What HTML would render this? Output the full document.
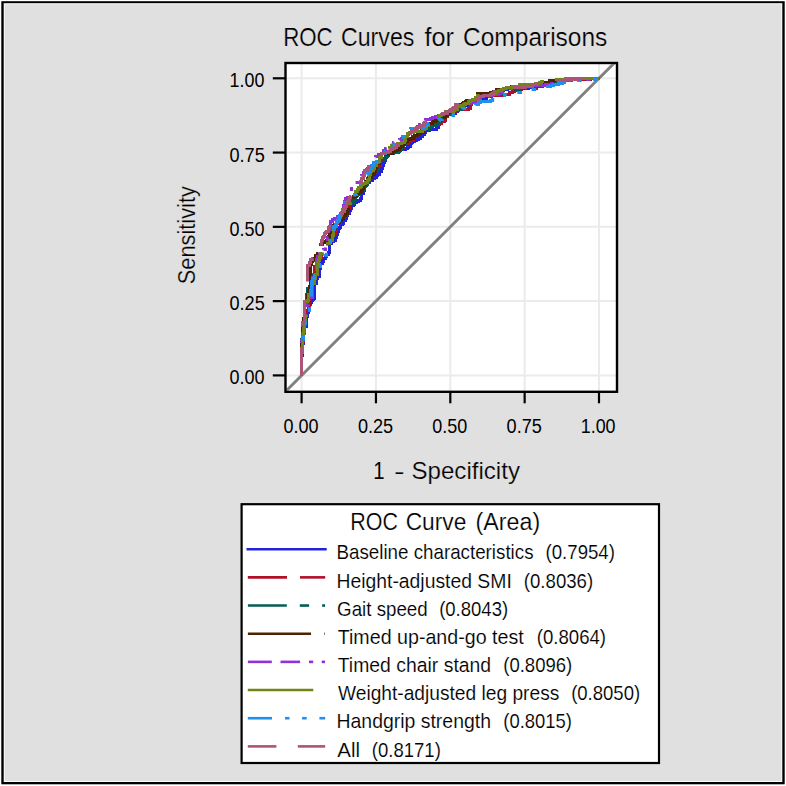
<!DOCTYPE html>
<html><head><meta charset="utf-8"><style>html,body{margin:0;padding:0;background:#fff;}svg{display:block;}text{font-family:"Liberation Sans",sans-serif;}</style></head>
<body>
<svg width="786" height="786" viewBox="0 0 786 786" font-family="Liberation Sans, sans-serif">
<rect x="0" y="0" width="786" height="786" fill="#ffffff"/>
<rect x="1.3" y="1.2" width="783.4" height="783.1" fill="#000"/>
<rect x="3.7" y="3.2" width="778.6" height="778.8" fill="#fafafa"/>
<rect x="4.7" y="4.3" width="776.6" height="776.7" fill="#e0e0e0"/>
<text transform="translate(283.16,45.80) scale(0.8913,1)" font-size="25" fill="#000" stroke="#e0e0e0" stroke-width="0.2" >ROC</text>
<text transform="translate(341.01,45.80) scale(0.9271,1)" font-size="25" fill="#000" stroke="#e0e0e0" stroke-width="0.2" >Curves</text>
<text transform="translate(424.40,45.80) scale(1.0120,1)" font-size="25" fill="#000" stroke="#e0e0e0" stroke-width="0.2" >for</text>
<text transform="translate(463.05,45.80) scale(0.9799,1)" font-size="25" fill="#000" stroke="#e0e0e0" stroke-width="0.2" >Comparisons</text>
<rect x="285.5" y="63.0" width="331.5" height="328.8" fill="#fff"/>
<line x1="301.60" y1="63.0" x2="301.60" y2="391.8" stroke="#ebebeb" stroke-width="2"/>
<line x1="285.5" y1="375.40" x2="617.0" y2="375.40" stroke="#ebebeb" stroke-width="2"/>
<line x1="375.95" y1="63.0" x2="375.95" y2="391.8" stroke="#ebebeb" stroke-width="2"/>
<line x1="285.5" y1="301.12" x2="617.0" y2="301.12" stroke="#ebebeb" stroke-width="2"/>
<line x1="450.30" y1="63.0" x2="450.30" y2="391.8" stroke="#ebebeb" stroke-width="2"/>
<line x1="285.5" y1="226.85" x2="617.0" y2="226.85" stroke="#ebebeb" stroke-width="2"/>
<line x1="524.65" y1="63.0" x2="524.65" y2="391.8" stroke="#ebebeb" stroke-width="2"/>
<line x1="285.5" y1="152.57" x2="617.0" y2="152.57" stroke="#ebebeb" stroke-width="2"/>
<line x1="599.00" y1="63.0" x2="599.00" y2="391.8" stroke="#ebebeb" stroke-width="2"/>
<line x1="285.5" y1="78.30" x2="617.0" y2="78.30" stroke="#ebebeb" stroke-width="2"/>
<clipPath id="pc"><rect x="286.7" y="64.2" width="329.1" height="326.40000000000003"/></clipPath>
<g clip-path="url(#pc)">
<line x1="281.70" y1="395.28" x2="620.80" y2="56.52" stroke="#808080" stroke-width="2.9"/>
<path d="M301.5,375.5 L301.5,374.5 L301.5,372.5 L301.5,370.5 L301.5,369.5 L301.5,367.5 L301.5,366.5 L301.5,365.5 L301.5,364.5 L301.5,362.5 L301.5,361.5 L301.5,359.5 L301.5,358.5 L301.5,357.5 L301.5,355.5 L302.5,355.5 L302.5,353.5 L302.5,352.5 L302.5,351.5 L302.5,349.5 L302.5,347.5 L302.5,346.5 L302.5,345.5 L302.5,343.5 L303.5,343.5 L303.5,341.5 L303.5,340.5 L303.5,339.5 L303.5,337.5 L303.5,335.5 L303.5,334.5 L303.5,332.5 L304.5,332.5 L304.5,330.5 L304.5,329.5 L304.5,327.5 L304.5,326.5 L306.5,326.5 L306.5,324.5 L306.5,322.5 L306.5,321.5 L306.5,320.5 L306.5,318.5 L306.5,317.5 L306.5,316.5 L307.5,316.5 L307.5,313.5 L307.5,312.5 L308.5,312.5 L308.5,310.5 L308.5,309.5 L308.5,308.5 L308.5,306.5 L308.5,305.5 L308.5,304.5 L310.5,304.5 L310.5,302.5 L311.5,302.5 L311.5,301.5 L311.5,300.5 L312.5,300.5 L312.5,299.5 L313.5,299.5 L313.5,298.5 L314.5,298.5 L314.5,296.5 L314.5,294.5 L314.5,293.5 L314.5,292.5 L314.5,290.5 L314.5,289.5 L314.5,288.5 L314.5,287.5 L314.5,285.5 L314.5,284.5 L314.5,283.5 L316.5,283.5 L316.5,281.5 L316.5,280.5 L316.5,278.5 L317.5,278.5 L317.5,277.5 L317.5,276.5 L319.5,276.5 L319.5,274.5 L319.5,273.5 L319.5,271.5 L319.5,270.5 L319.5,268.5 L320.5,268.5 L320.5,266.5 L320.5,265.5 L320.5,263.5 L322.5,263.5 L322.5,262.5 L322.5,261.5 L323.5,261.5 L323.5,259.5 L323.5,258.5 L325.5,258.5 L325.5,256.5 L326.5,256.5 L326.5,255.5 L326.5,254.5 L328.5,254.5 L328.5,252.5 L329.5,252.5 L329.5,251.5 L329.5,250.5 L329.5,247.5 L329.5,246.5 L329.5,244.5 L329.5,243.5 L331.5,243.5 L331.5,242.5 L331.5,241.5 L333.5,241.5 L333.5,240.5 L335.5,240.5 L335.5,238.5 L335.5,237.5 L336.5,237.5 L336.5,235.5 L336.5,234.5 L337.5,234.5 L337.5,232.5 L337.5,231.5 L338.5,231.5 L338.5,229.5 L338.5,228.5 L339.5,228.5 L339.5,227.5 L340.5,227.5 L340.5,225.5 L340.5,224.5 L342.5,224.5 L342.5,223.5 L343.5,223.5 L343.5,221.5 L343.5,220.5 L345.5,220.5 L345.5,218.5 L346.5,218.5 L346.5,217.5 L346.5,215.5 L347.5,215.5 L347.5,213.5 L349.5,213.5 L349.5,212.5 L349.5,211.5 L349.5,210.5 L350.5,210.5 L350.5,208.5 L351.5,208.5 L351.5,207.5 L351.5,205.5 L353.5,205.5 L353.5,204.5 L354.5,204.5 L354.5,202.5 L355.5,202.5 L356.5,202.5 L356.5,201.5 L358.5,201.5 L358.5,200.5 L360.5,200.5 L360.5,198.5 L361.5,198.5 L361.5,196.5 L361.5,195.5 L361.5,194.5 L361.5,193.5 L363.5,193.5 L363.5,191.5 L363.5,190.5 L364.5,190.5 L364.5,188.5 L364.5,186.5 L364.5,185.5 L366.5,185.5 L366.5,184.5 L367.5,184.5 L367.5,183.5 L367.5,182.5 L369.5,182.5 L369.5,180.5 L372.5,180.5 L372.5,178.5 L374.5,178.5 L374.5,177.5 L376.5,177.5 L376.5,175.5 L377.5,175.5 L377.5,174.5 L379.5,174.5 L379.5,172.5 L379.5,171.5 L381.5,171.5 L381.5,169.5 L381.5,168.5 L382.5,168.5 L382.5,166.5 L382.5,165.5 L383.5,165.5 L383.5,163.5 L383.5,162.5 L384.5,162.5 L384.5,160.5 L385.5,160.5 L385.5,159.5 L385.5,157.5 L386.5,157.5 L386.5,156.5 L387.5,156.5 L387.5,155.5 L387.5,153.5 L390.5,153.5 L391.5,153.5 L391.5,152.5 L392.5,152.5 L395.5,152.5 L395.5,151.5 L397.5,151.5 L397.5,150.5 L399.5,150.5 L400.5,150.5 L400.5,149.5 L402.5,149.5 L403.5,149.5 L405.5,149.5 L405.5,148.5 L407.5,148.5 L407.5,147.5 L408.5,147.5 L408.5,146.5 L410.5,146.5 L410.5,144.5 L410.5,143.5 L411.5,143.5 L411.5,142.5 L412.5,142.5 L412.5,141.5 L414.5,141.5 L414.5,140.5 L416.5,140.5 L416.5,139.5 L418.5,139.5 L418.5,138.5 L419.5,138.5 L420.5,138.5 L420.5,137.5 L420.5,136.5 L422.5,136.5 L422.5,134.5 L424.5,134.5 L424.5,132.5 L425.5,132.5 L425.5,131.5 L425.5,130.5 L427.5,130.5 L429.5,130.5 L429.5,129.5 L430.5,129.5 L431.5,129.5 L433.5,129.5 L435.5,129.5 L436.5,129.5 L436.5,127.5 L438.5,127.5 L438.5,126.5 L438.5,125.5 L438.5,124.5 L439.5,124.5 L439.5,122.5 L439.5,121.5 L439.5,120.5 L441.5,120.5 L441.5,118.5 L443.5,118.5 L443.5,116.5 L445.5,116.5 L445.5,115.5 L447.5,115.5 L447.5,114.5 L449.5,114.5 L451.5,114.5 L451.5,113.5 L453.5,113.5 L454.5,113.5 L455.5,113.5 L455.5,111.5 L456.5,111.5 L457.5,111.5 L457.5,109.5 L457.5,108.5 L460.5,108.5 L460.5,107.5 L462.5,107.5 L462.5,106.5 L463.5,106.5 L464.5,106.5 L464.5,105.5 L467.5,105.5 L469.5,105.5 L469.5,104.5 L470.5,104.5 L470.5,103.5 L471.5,103.5 L471.5,101.5 L474.5,101.5 L474.5,100.5 L476.5,100.5 L476.5,99.5 L478.5,99.5 L480.5,99.5 L482.5,99.5 L484.5,99.5 L484.5,98.5 L486.5,98.5 L486.5,96.5 L488.5,96.5 L489.5,96.5 L489.5,94.5 L491.5,94.5 L492.5,94.5 L493.5,94.5 L493.5,93.5 L495.5,93.5 L497.5,93.5 L499.5,93.5 L499.5,92.5 L500.5,92.5 L501.5,92.5 L501.5,90.5 L503.5,90.5 L503.5,89.5 L505.5,89.5 L507.5,89.5 L507.5,88.5 L510.5,88.5 L512.5,88.5 L514.5,88.5 L515.5,88.5 L516.5,88.5 L518.5,88.5 L520.5,88.5 L522.5,88.5 L524.5,88.5 L527.5,88.5 L528.5,88.5 L528.5,87.5 L529.5,87.5 L531.5,87.5 L531.5,85.5 L534.5,85.5 L535.5,85.5 L537.5,85.5 L538.5,85.5 L538.5,84.5 L539.5,84.5 L542.5,84.5 L542.5,83.5 L544.5,83.5 L546.5,83.5 L548.5,83.5 L548.5,82.5 L550.5,82.5 L552.5,82.5 L554.5,82.5 L556.5,82.5 L558.5,82.5 L560.5,82.5 L560.5,81.5 L561.5,81.5 L563.5,81.5 L563.5,80.5 L565.5,80.5 L566.5,80.5 L568.5,80.5 L568.5,79.5 L569.5,79.5 L572.5,79.5 L574.5,79.5 L575.5,79.5 L577.5,79.5 L578.5,79.5 L579.5,79.5 L581.5,79.5 L582.5,79.5 L585.5,79.5 L586.5,79.5 L587.5,79.5 L590.5,79.5 L590.5,78.5 L592.5,78.5 L593.5,78.5 L595.5,78.5 L598.5,78.5 L599.5,78.5" fill="none" stroke="#2222dd" stroke-width="3"/>
<path d="M301.5,375.5 L301.5,374.5 L301.5,372.5 L301.5,371.5 L301.5,369.5 L301.5,368.5 L301.5,365.5 L301.5,364.5 L301.5,363.5 L301.5,362.5 L301.5,360.5 L301.5,358.5 L301.5,357.5 L301.5,356.5 L301.5,354.5 L301.5,352.5 L301.5,351.5 L301.5,350.5 L302.5,350.5 L302.5,349.5 L302.5,347.5 L302.5,346.5 L302.5,345.5 L302.5,344.5 L302.5,343.5 L302.5,342.5 L302.5,341.5 L303.5,341.5 L303.5,340.5 L303.5,338.5 L303.5,336.5 L303.5,335.5 L303.5,333.5 L304.5,333.5 L304.5,332.5 L304.5,330.5 L304.5,328.5 L304.5,326.5 L304.5,325.5 L304.5,323.5 L304.5,321.5 L304.5,320.5 L304.5,318.5 L304.5,316.5 L304.5,314.5 L304.5,313.5 L306.5,313.5 L306.5,312.5 L306.5,310.5 L308.5,310.5 L308.5,308.5 L308.5,307.5 L308.5,306.5 L309.5,306.5 L309.5,304.5 L309.5,302.5 L309.5,301.5 L309.5,300.5 L309.5,299.5 L310.5,299.5 L310.5,298.5 L310.5,296.5 L310.5,294.5 L310.5,293.5 L311.5,293.5 L311.5,292.5 L311.5,290.5 L313.5,290.5 L313.5,289.5 L313.5,288.5 L313.5,287.5 L314.5,287.5 L314.5,285.5 L314.5,284.5 L314.5,282.5 L314.5,280.5 L314.5,279.5 L314.5,277.5 L314.5,276.5 L314.5,275.5 L314.5,274.5 L314.5,272.5 L314.5,270.5 L314.5,269.5 L314.5,267.5 L314.5,266.5 L316.5,266.5 L316.5,265.5 L316.5,263.5 L317.5,263.5 L317.5,261.5 L317.5,260.5 L317.5,258.5 L320.5,258.5 L320.5,257.5 L321.5,257.5 L321.5,256.5 L321.5,254.5 L323.5,254.5 L323.5,253.5 L323.5,252.5 L323.5,251.5 L325.5,251.5 L325.5,249.5 L325.5,248.5 L326.5,248.5 L326.5,247.5 L326.5,245.5 L327.5,245.5 L327.5,244.5 L327.5,243.5 L327.5,242.5 L328.5,242.5 L328.5,240.5 L328.5,239.5 L330.5,239.5 L330.5,238.5 L330.5,236.5 L332.5,236.5 L332.5,235.5 L333.5,235.5 L333.5,233.5 L335.5,233.5 L335.5,232.5 L335.5,230.5 L336.5,230.5 L336.5,229.5 L336.5,226.5 L336.5,225.5 L336.5,224.5 L336.5,223.5 L337.5,223.5 L337.5,221.5 L337.5,220.5 L337.5,219.5 L338.5,219.5 L338.5,217.5 L338.5,216.5 L340.5,216.5 L340.5,215.5 L342.5,215.5 L342.5,214.5 L345.5,214.5 L346.5,214.5 L346.5,212.5 L348.5,212.5 L348.5,210.5 L348.5,209.5 L348.5,208.5 L348.5,207.5 L349.5,207.5 L349.5,205.5 L349.5,203.5 L349.5,202.5 L351.5,202.5 L351.5,201.5 L351.5,199.5 L353.5,199.5 L353.5,198.5 L354.5,198.5 L354.5,197.5 L354.5,195.5 L355.5,195.5 L355.5,193.5 L355.5,192.5 L358.5,192.5 L358.5,191.5 L358.5,190.5 L360.5,190.5 L360.5,189.5 L362.5,189.5 L362.5,187.5 L363.5,187.5 L363.5,186.5 L364.5,186.5 L364.5,184.5 L364.5,183.5 L366.5,183.5 L366.5,182.5 L366.5,181.5 L367.5,181.5 L367.5,180.5 L367.5,178.5 L368.5,178.5 L368.5,177.5 L369.5,177.5 L369.5,176.5 L371.5,176.5 L371.5,174.5 L372.5,174.5 L372.5,172.5 L373.5,172.5 L373.5,171.5 L375.5,171.5 L376.5,171.5 L376.5,170.5 L376.5,168.5 L378.5,168.5 L378.5,166.5 L378.5,165.5 L380.5,165.5 L380.5,164.5 L380.5,162.5 L380.5,161.5 L380.5,159.5 L382.5,159.5 L382.5,157.5 L384.5,157.5 L384.5,156.5 L384.5,155.5 L386.5,155.5 L386.5,154.5 L388.5,154.5 L388.5,153.5 L389.5,153.5 L392.5,153.5 L392.5,152.5 L393.5,152.5 L395.5,152.5 L396.5,152.5 L398.5,152.5 L398.5,150.5 L400.5,150.5 L400.5,149.5 L401.5,149.5 L401.5,148.5 L401.5,147.5 L403.5,147.5 L403.5,146.5 L403.5,144.5 L405.5,144.5 L405.5,143.5 L406.5,143.5 L407.5,143.5 L407.5,141.5 L409.5,141.5 L410.5,141.5 L410.5,140.5 L411.5,140.5 L411.5,139.5 L413.5,139.5 L413.5,137.5 L414.5,137.5 L414.5,135.5 L414.5,134.5 L416.5,134.5 L416.5,133.5 L417.5,133.5 L417.5,132.5 L418.5,132.5 L419.5,132.5 L419.5,131.5 L421.5,131.5 L421.5,130.5 L422.5,130.5 L422.5,129.5 L424.5,129.5 L424.5,128.5 L426.5,128.5 L426.5,126.5 L428.5,126.5 L428.5,125.5 L429.5,125.5 L432.5,125.5 L432.5,124.5 L433.5,124.5 L436.5,124.5 L437.5,124.5 L437.5,123.5 L439.5,123.5 L441.5,123.5 L441.5,121.5 L442.5,121.5 L444.5,121.5 L444.5,120.5 L445.5,120.5 L445.5,118.5 L445.5,117.5 L447.5,117.5 L447.5,115.5 L447.5,114.5 L447.5,113.5 L449.5,113.5 L449.5,112.5 L451.5,112.5 L451.5,111.5 L453.5,111.5 L455.5,111.5 L455.5,110.5 L456.5,110.5 L458.5,110.5 L458.5,109.5 L459.5,109.5 L460.5,109.5 L461.5,109.5 L464.5,109.5 L465.5,109.5 L467.5,109.5 L468.5,109.5 L468.5,108.5 L470.5,108.5 L470.5,106.5 L470.5,104.5 L471.5,104.5 L471.5,103.5 L471.5,101.5 L474.5,101.5 L475.5,101.5 L476.5,101.5 L476.5,100.5 L478.5,100.5 L479.5,100.5 L481.5,100.5 L481.5,99.5 L482.5,99.5 L485.5,99.5 L485.5,97.5 L487.5,97.5 L487.5,96.5 L490.5,96.5 L491.5,96.5 L491.5,95.5 L493.5,95.5 L495.5,95.5 L496.5,95.5 L497.5,95.5 L500.5,95.5 L502.5,95.5 L504.5,95.5 L504.5,94.5 L506.5,94.5 L508.5,94.5 L509.5,94.5 L509.5,92.5 L512.5,92.5 L512.5,91.5 L514.5,91.5 L514.5,90.5 L517.5,90.5 L517.5,89.5 L518.5,89.5 L520.5,89.5 L521.5,89.5 L521.5,88.5 L522.5,88.5 L524.5,88.5 L526.5,88.5 L529.5,88.5 L531.5,88.5 L532.5,88.5 L533.5,88.5 L534.5,88.5 L536.5,88.5 L536.5,86.5 L538.5,86.5 L540.5,86.5 L540.5,85.5 L543.5,85.5 L543.5,84.5 L544.5,84.5 L547.5,84.5 L547.5,82.5 L548.5,82.5 L550.5,82.5 L551.5,82.5 L554.5,82.5 L555.5,82.5 L556.5,82.5 L558.5,82.5 L560.5,82.5 L560.5,81.5 L561.5,81.5 L563.5,81.5 L563.5,80.5 L565.5,80.5 L566.5,80.5 L568.5,80.5 L568.5,79.5 L570.5,79.5 L571.5,79.5 L573.5,79.5 L574.5,79.5 L576.5,79.5 L578.5,79.5 L580.5,79.5 L581.5,79.5 L583.5,79.5 L585.5,79.5 L587.5,79.5 L589.5,79.5 L589.5,78.5 L591.5,78.5 L592.5,78.5 L594.5,78.5 L595.5,78.5 L596.5,78.5 L598.5,78.5 L599.5,78.5" fill="none" stroke="#b01028" stroke-width="3" stroke-dasharray="39 13"/>
<path d="M301.5,375.5 L301.5,374.5 L301.5,372.5 L301.5,371.5 L301.5,370.5 L301.5,369.5 L301.5,367.5 L301.5,365.5 L301.5,364.5 L301.5,363.5 L301.5,361.5 L301.5,359.5 L301.5,358.5 L301.5,356.5 L301.5,354.5 L301.5,352.5 L301.5,351.5 L301.5,349.5 L301.5,348.5 L301.5,346.5 L301.5,345.5 L301.5,344.5 L301.5,342.5 L301.5,341.5 L301.5,339.5 L302.5,339.5 L302.5,337.5 L302.5,336.5 L302.5,334.5 L302.5,333.5 L302.5,332.5 L302.5,331.5 L302.5,329.5 L304.5,329.5 L304.5,328.5 L304.5,326.5 L304.5,324.5 L304.5,323.5 L305.5,323.5 L305.5,321.5 L305.5,319.5 L305.5,317.5 L305.5,316.5 L305.5,314.5 L305.5,313.5 L305.5,311.5 L305.5,310.5 L306.5,310.5 L306.5,309.5 L306.5,307.5 L306.5,306.5 L306.5,305.5 L306.5,303.5 L306.5,302.5 L306.5,299.5 L306.5,298.5 L306.5,296.5 L306.5,295.5 L306.5,294.5 L307.5,294.5 L307.5,292.5 L307.5,291.5 L307.5,290.5 L307.5,288.5 L310.5,288.5 L310.5,287.5 L310.5,285.5 L311.5,285.5 L311.5,284.5 L311.5,282.5 L312.5,282.5 L312.5,281.5 L312.5,279.5 L312.5,278.5 L312.5,277.5 L312.5,276.5 L312.5,274.5 L312.5,273.5 L312.5,271.5 L312.5,269.5 L312.5,268.5 L312.5,267.5 L312.5,266.5 L312.5,264.5 L312.5,263.5 L312.5,262.5 L312.5,260.5 L313.5,260.5 L313.5,259.5 L313.5,258.5 L315.5,258.5 L316.5,258.5 L316.5,256.5 L317.5,256.5 L317.5,254.5 L319.5,254.5 L319.5,253.5 L319.5,251.5 L319.5,250.5 L320.5,250.5 L320.5,249.5 L320.5,248.5 L320.5,247.5 L320.5,245.5 L320.5,244.5 L322.5,244.5 L322.5,242.5 L322.5,241.5 L324.5,241.5 L326.5,241.5 L326.5,240.5 L327.5,240.5 L327.5,238.5 L329.5,238.5 L329.5,236.5 L331.5,236.5 L331.5,234.5 L331.5,233.5 L331.5,232.5 L331.5,230.5 L333.5,230.5 L333.5,228.5 L335.5,228.5 L335.5,227.5 L335.5,226.5 L336.5,226.5 L336.5,225.5 L336.5,223.5 L338.5,223.5 L338.5,221.5 L339.5,221.5 L339.5,220.5 L340.5,220.5 L340.5,219.5 L341.5,219.5 L341.5,217.5 L343.5,217.5 L344.5,217.5 L344.5,215.5 L346.5,215.5 L346.5,214.5 L347.5,214.5 L347.5,213.5 L347.5,211.5 L347.5,210.5 L349.5,210.5 L349.5,208.5 L350.5,208.5 L350.5,207.5 L350.5,206.5 L352.5,206.5 L352.5,204.5 L352.5,203.5 L353.5,203.5 L353.5,202.5 L353.5,200.5 L353.5,199.5 L355.5,199.5 L355.5,198.5 L355.5,197.5 L355.5,196.5 L356.5,196.5 L356.5,195.5 L357.5,195.5 L357.5,194.5 L359.5,194.5 L359.5,192.5 L361.5,192.5 L361.5,191.5 L361.5,190.5 L363.5,190.5 L363.5,189.5 L364.5,189.5 L364.5,188.5 L364.5,186.5 L365.5,186.5 L365.5,185.5 L365.5,184.5 L367.5,184.5 L367.5,182.5 L368.5,182.5 L368.5,181.5 L370.5,181.5 L370.5,179.5 L370.5,178.5 L372.5,178.5 L372.5,176.5 L372.5,175.5 L374.5,175.5 L374.5,174.5 L374.5,173.5 L374.5,172.5 L375.5,172.5 L375.5,171.5 L375.5,170.5 L375.5,169.5 L377.5,169.5 L377.5,167.5 L377.5,166.5 L377.5,165.5 L379.5,165.5 L379.5,163.5 L380.5,163.5 L380.5,162.5 L382.5,162.5 L382.5,161.5 L382.5,159.5 L384.5,159.5 L384.5,158.5 L385.5,158.5 L385.5,157.5 L385.5,156.5 L386.5,156.5 L386.5,155.5 L388.5,155.5 L388.5,153.5 L390.5,153.5 L391.5,153.5 L393.5,153.5 L393.5,152.5 L394.5,152.5 L396.5,152.5 L396.5,151.5 L398.5,151.5 L399.5,151.5 L399.5,149.5 L401.5,149.5 L401.5,147.5 L401.5,146.5 L403.5,146.5 L403.5,144.5 L405.5,144.5 L405.5,143.5 L406.5,143.5 L406.5,141.5 L406.5,140.5 L408.5,140.5 L408.5,139.5 L410.5,139.5 L410.5,137.5 L412.5,137.5 L412.5,136.5 L413.5,136.5 L415.5,136.5 L415.5,135.5 L416.5,135.5 L417.5,135.5 L419.5,135.5 L420.5,135.5 L420.5,134.5 L422.5,134.5 L423.5,134.5 L425.5,134.5 L425.5,133.5 L427.5,133.5 L427.5,131.5 L427.5,129.5 L429.5,129.5 L429.5,128.5 L429.5,127.5 L430.5,127.5 L430.5,126.5 L432.5,126.5 L432.5,125.5 L433.5,125.5 L435.5,125.5 L435.5,124.5 L436.5,124.5 L438.5,124.5 L438.5,123.5 L438.5,121.5 L440.5,121.5 L440.5,120.5 L442.5,120.5 L442.5,119.5 L442.5,118.5 L445.5,118.5 L445.5,116.5 L446.5,116.5 L447.5,116.5 L447.5,114.5 L449.5,114.5 L449.5,113.5 L451.5,113.5 L453.5,113.5 L453.5,111.5 L454.5,111.5 L456.5,111.5 L456.5,110.5 L458.5,110.5 L459.5,110.5 L459.5,109.5 L462.5,109.5 L462.5,107.5 L464.5,107.5 L464.5,105.5 L466.5,105.5 L466.5,104.5 L467.5,104.5 L468.5,104.5 L468.5,103.5 L470.5,103.5 L471.5,103.5 L471.5,102.5 L473.5,102.5 L474.5,102.5 L474.5,100.5 L476.5,100.5 L476.5,99.5 L476.5,98.5 L478.5,98.5 L478.5,97.5 L478.5,95.5 L481.5,95.5 L483.5,95.5 L484.5,95.5 L486.5,95.5 L488.5,95.5 L490.5,95.5 L491.5,95.5 L491.5,94.5 L493.5,94.5 L495.5,94.5 L495.5,93.5 L497.5,93.5 L498.5,93.5 L501.5,93.5 L503.5,93.5 L503.5,92.5 L505.5,92.5 L507.5,92.5 L507.5,90.5 L508.5,90.5 L510.5,90.5 L512.5,90.5 L514.5,90.5 L515.5,90.5 L517.5,90.5 L518.5,90.5 L518.5,89.5 L520.5,89.5 L520.5,88.5 L521.5,88.5 L523.5,88.5 L523.5,87.5 L524.5,87.5 L526.5,87.5 L528.5,87.5 L530.5,87.5 L531.5,87.5 L532.5,87.5 L532.5,86.5 L534.5,86.5 L536.5,86.5 L538.5,86.5 L540.5,86.5 L542.5,86.5 L542.5,85.5 L544.5,85.5 L545.5,85.5 L546.5,85.5 L548.5,85.5 L548.5,84.5 L549.5,84.5 L551.5,84.5 L552.5,84.5 L552.5,83.5 L555.5,83.5 L557.5,83.5 L557.5,82.5 L559.5,82.5 L560.5,82.5 L561.5,82.5 L563.5,82.5 L563.5,80.5 L565.5,80.5 L568.5,80.5 L568.5,79.5 L569.5,79.5 L570.5,79.5 L573.5,79.5 L574.5,79.5 L574.5,78.5 L576.5,78.5 L578.5,78.5 L580.5,78.5 L582.5,78.5 L583.5,78.5 L584.5,78.5 L586.5,78.5 L587.5,78.5 L589.5,78.5 L591.5,78.5 L592.5,78.5 L593.5,78.5 L594.5,78.5 L596.5,78.5 L597.5,78.5 L599.5,78.5" fill="none" stroke="#045c55" stroke-width="3" stroke-dasharray="39 13 9.3 13"/>
<path d="M301.5,375.5 L301.5,373.5 L301.5,372.5 L301.5,371.5 L301.5,370.5 L301.5,368.5 L301.5,366.5 L301.5,365.5 L301.5,364.5 L301.5,362.5 L301.5,361.5 L301.5,359.5 L301.5,358.5 L301.5,356.5 L301.5,354.5 L301.5,352.5 L301.5,351.5 L301.5,349.5 L301.5,347.5 L301.5,345.5 L301.5,344.5 L302.5,344.5 L302.5,342.5 L302.5,340.5 L302.5,339.5 L302.5,338.5 L302.5,337.5 L302.5,336.5 L302.5,335.5 L302.5,333.5 L302.5,332.5 L302.5,330.5 L302.5,329.5 L302.5,327.5 L302.5,326.5 L303.5,326.5 L303.5,325.5 L303.5,323.5 L303.5,322.5 L303.5,320.5 L303.5,319.5 L303.5,318.5 L304.5,318.5 L304.5,316.5 L304.5,314.5 L304.5,313.5 L304.5,311.5 L304.5,310.5 L304.5,308.5 L305.5,308.5 L305.5,307.5 L305.5,305.5 L305.5,304.5 L305.5,303.5 L307.5,303.5 L307.5,301.5 L307.5,300.5 L307.5,299.5 L307.5,297.5 L307.5,296.5 L307.5,295.5 L308.5,295.5 L308.5,293.5 L308.5,292.5 L308.5,290.5 L309.5,290.5 L309.5,289.5 L309.5,287.5 L309.5,286.5 L310.5,286.5 L310.5,285.5 L310.5,284.5 L310.5,283.5 L310.5,282.5 L310.5,281.5 L310.5,279.5 L310.5,277.5 L310.5,276.5 L310.5,274.5 L310.5,272.5 L310.5,270.5 L310.5,269.5 L310.5,267.5 L310.5,266.5 L310.5,264.5 L311.5,264.5 L311.5,262.5 L311.5,261.5 L312.5,261.5 L312.5,259.5 L313.5,259.5 L313.5,258.5 L315.5,258.5 L315.5,256.5 L315.5,255.5 L317.5,255.5 L317.5,253.5 L318.5,253.5 L318.5,252.5 L319.5,252.5 L319.5,250.5 L319.5,248.5 L319.5,247.5 L320.5,247.5 L320.5,245.5 L320.5,244.5 L322.5,244.5 L322.5,242.5 L324.5,242.5 L324.5,241.5 L326.5,241.5 L326.5,240.5 L327.5,240.5 L327.5,239.5 L327.5,238.5 L328.5,238.5 L328.5,237.5 L328.5,236.5 L329.5,236.5 L329.5,234.5 L329.5,232.5 L329.5,231.5 L331.5,231.5 L331.5,230.5 L331.5,228.5 L333.5,228.5 L333.5,226.5 L333.5,225.5 L334.5,225.5 L334.5,224.5 L335.5,224.5 L336.5,224.5 L336.5,222.5 L336.5,221.5 L339.5,221.5 L339.5,220.5 L340.5,220.5 L341.5,220.5 L341.5,218.5 L343.5,218.5 L343.5,217.5 L343.5,215.5 L345.5,215.5 L345.5,214.5 L345.5,213.5 L347.5,213.5 L347.5,211.5 L347.5,210.5 L348.5,210.5 L348.5,208.5 L348.5,207.5 L348.5,205.5 L349.5,205.5 L349.5,203.5 L349.5,202.5 L350.5,202.5 L351.5,202.5 L351.5,200.5 L351.5,199.5 L351.5,197.5 L353.5,197.5 L353.5,196.5 L355.5,196.5 L355.5,195.5 L356.5,195.5 L356.5,193.5 L358.5,193.5 L358.5,192.5 L361.5,192.5 L361.5,190.5 L362.5,190.5 L362.5,188.5 L363.5,188.5 L363.5,187.5 L363.5,185.5 L363.5,184.5 L365.5,184.5 L365.5,182.5 L365.5,181.5 L367.5,181.5 L367.5,179.5 L368.5,179.5 L368.5,178.5 L369.5,178.5 L369.5,177.5 L371.5,177.5 L371.5,175.5 L371.5,174.5 L374.5,174.5 L374.5,173.5 L374.5,171.5 L375.5,171.5 L375.5,170.5 L375.5,168.5 L375.5,167.5 L376.5,167.5 L376.5,165.5 L376.5,163.5 L378.5,163.5 L379.5,163.5 L379.5,161.5 L380.5,161.5 L380.5,160.5 L380.5,159.5 L381.5,159.5 L381.5,158.5 L382.5,158.5 L382.5,157.5 L382.5,155.5 L384.5,155.5 L385.5,155.5 L385.5,154.5 L386.5,154.5 L388.5,154.5 L388.5,153.5 L391.5,153.5 L392.5,153.5 L392.5,151.5 L394.5,151.5 L394.5,150.5 L397.5,150.5 L397.5,149.5 L399.5,149.5 L399.5,147.5 L400.5,147.5 L400.5,146.5 L402.5,146.5 L402.5,145.5 L402.5,144.5 L404.5,144.5 L404.5,142.5 L405.5,142.5 L405.5,141.5 L407.5,141.5 L407.5,140.5 L407.5,139.5 L409.5,139.5 L410.5,139.5 L410.5,138.5 L411.5,138.5 L413.5,138.5 L413.5,137.5 L414.5,137.5 L414.5,135.5 L417.5,135.5 L417.5,134.5 L418.5,134.5 L418.5,133.5 L420.5,133.5 L420.5,132.5 L422.5,132.5 L423.5,132.5 L423.5,130.5 L425.5,130.5 L425.5,129.5 L425.5,128.5 L427.5,128.5 L427.5,126.5 L428.5,126.5 L428.5,124.5 L430.5,124.5 L430.5,123.5 L432.5,123.5 L432.5,121.5 L434.5,121.5 L435.5,121.5 L435.5,120.5 L437.5,120.5 L440.5,120.5 L440.5,119.5 L442.5,119.5 L442.5,117.5 L444.5,117.5 L445.5,117.5 L445.5,116.5 L445.5,115.5 L447.5,115.5 L447.5,113.5 L448.5,113.5 L448.5,112.5 L448.5,111.5 L450.5,111.5 L451.5,111.5 L451.5,110.5 L453.5,110.5 L453.5,108.5 L456.5,108.5 L456.5,107.5 L457.5,107.5 L458.5,107.5 L458.5,105.5 L460.5,105.5 L460.5,104.5 L462.5,104.5 L462.5,103.5 L463.5,103.5 L463.5,102.5 L465.5,102.5 L465.5,101.5 L466.5,101.5 L466.5,100.5 L467.5,100.5 L468.5,100.5 L468.5,98.5 L470.5,98.5 L470.5,97.5 L472.5,97.5 L472.5,96.5 L474.5,96.5 L474.5,95.5 L476.5,95.5 L477.5,95.5 L477.5,93.5 L479.5,93.5 L481.5,93.5 L484.5,93.5 L486.5,93.5 L488.5,93.5 L489.5,93.5 L490.5,93.5 L490.5,92.5 L491.5,92.5 L493.5,92.5 L493.5,91.5 L494.5,91.5 L496.5,91.5 L496.5,89.5 L498.5,89.5 L500.5,89.5 L503.5,89.5 L503.5,88.5 L504.5,88.5 L506.5,88.5 L506.5,87.5 L508.5,87.5 L510.5,87.5 L511.5,87.5 L511.5,86.5 L514.5,86.5 L515.5,86.5 L517.5,86.5 L518.5,86.5 L520.5,86.5 L522.5,86.5 L523.5,86.5 L525.5,86.5 L526.5,86.5 L528.5,86.5 L530.5,86.5 L530.5,85.5 L531.5,85.5 L534.5,85.5 L536.5,85.5 L536.5,84.5 L538.5,84.5 L539.5,84.5 L541.5,84.5 L541.5,83.5 L542.5,83.5 L544.5,83.5 L544.5,82.5 L547.5,82.5 L549.5,82.5 L549.5,80.5 L551.5,80.5 L553.5,80.5 L555.5,80.5 L557.5,80.5 L558.5,80.5 L560.5,80.5 L560.5,79.5 L562.5,79.5 L564.5,79.5 L566.5,79.5 L566.5,78.5 L569.5,78.5 L570.5,78.5 L573.5,78.5 L575.5,78.5 L577.5,78.5 L578.5,78.5 L580.5,78.5 L582.5,78.5 L584.5,78.5 L586.5,78.5 L587.5,78.5 L589.5,78.5 L590.5,78.5 L592.5,78.5 L594.5,78.5 L596.5,78.5 L597.5,78.5 L598.5,78.5 L599.5,78.5" fill="none" stroke="#4e2400" stroke-width="3" stroke-dasharray="63 13"/>
<path d="M301.5,375.5 L301.5,373.5 L301.5,372.5 L301.5,370.5 L301.5,369.5 L301.5,368.5 L301.5,366.5 L301.5,364.5 L301.5,362.5 L301.5,361.5 L301.5,359.5 L301.5,358.5 L301.5,357.5 L301.5,356.5 L301.5,355.5 L301.5,354.5 L301.5,353.5 L301.5,351.5 L301.5,350.5 L301.5,348.5 L301.5,347.5 L301.5,345.5 L301.5,344.5 L301.5,342.5 L301.5,340.5 L302.5,340.5 L302.5,339.5 L302.5,338.5 L302.5,336.5 L302.5,334.5 L302.5,333.5 L304.5,333.5 L304.5,331.5 L304.5,330.5 L304.5,328.5 L304.5,326.5 L304.5,325.5 L304.5,324.5 L304.5,323.5 L305.5,323.5 L305.5,321.5 L305.5,319.5 L305.5,318.5 L305.5,316.5 L305.5,314.5 L305.5,313.5 L305.5,312.5 L305.5,310.5 L305.5,308.5 L305.5,307.5 L305.5,305.5 L307.5,305.5 L307.5,304.5 L308.5,304.5 L308.5,302.5 L308.5,301.5 L310.5,301.5 L310.5,300.5 L310.5,298.5 L310.5,297.5 L312.5,297.5 L312.5,295.5 L312.5,294.5 L312.5,293.5 L312.5,291.5 L312.5,289.5 L312.5,288.5 L312.5,286.5 L312.5,285.5 L312.5,283.5 L312.5,282.5 L312.5,280.5 L312.5,279.5 L312.5,278.5 L312.5,277.5 L313.5,277.5 L313.5,275.5 L313.5,274.5 L314.5,274.5 L314.5,273.5 L314.5,271.5 L316.5,271.5 L316.5,269.5 L316.5,268.5 L316.5,267.5 L316.5,266.5 L316.5,264.5 L316.5,263.5 L316.5,261.5 L316.5,260.5 L316.5,259.5 L317.5,259.5 L317.5,257.5 L317.5,256.5 L319.5,256.5 L319.5,255.5 L320.5,255.5 L320.5,254.5 L320.5,253.5 L322.5,253.5 L322.5,251.5 L323.5,251.5 L323.5,250.5 L323.5,249.5 L325.5,249.5 L325.5,248.5 L325.5,246.5 L326.5,246.5 L326.5,244.5 L326.5,243.5 L326.5,241.5 L327.5,241.5 L327.5,240.5 L327.5,238.5 L327.5,237.5 L328.5,237.5 L328.5,236.5 L329.5,236.5 L329.5,234.5 L329.5,232.5 L329.5,231.5 L330.5,231.5 L330.5,230.5 L330.5,229.5 L330.5,227.5 L330.5,226.5 L330.5,224.5 L330.5,223.5 L330.5,222.5 L330.5,221.5 L332.5,221.5 L332.5,219.5 L334.5,219.5 L334.5,218.5 L335.5,218.5 L337.5,218.5 L337.5,216.5 L338.5,216.5 L340.5,216.5 L340.5,215.5 L340.5,214.5 L341.5,214.5 L341.5,212.5 L341.5,211.5 L341.5,210.5 L343.5,210.5 L343.5,209.5 L343.5,208.5 L343.5,206.5 L343.5,205.5 L344.5,205.5 L344.5,203.5 L344.5,202.5 L344.5,201.5 L345.5,201.5 L345.5,199.5 L345.5,198.5 L347.5,198.5 L347.5,196.5 L347.5,195.5 L347.5,193.5 L348.5,193.5 L348.5,191.5 L348.5,189.5 L351.5,189.5 L351.5,188.5 L351.5,186.5 L352.5,186.5 L352.5,185.5 L352.5,183.5 L354.5,183.5 L354.5,182.5 L356.5,182.5 L358.5,182.5 L358.5,181.5 L358.5,180.5 L359.5,180.5 L359.5,178.5 L359.5,177.5 L361.5,177.5 L361.5,176.5 L361.5,175.5 L363.5,175.5 L363.5,174.5 L363.5,172.5 L364.5,172.5 L365.5,172.5 L365.5,170.5 L366.5,170.5 L366.5,169.5 L367.5,169.5 L367.5,168.5 L369.5,168.5 L369.5,167.5 L371.5,167.5 L373.5,167.5 L373.5,165.5 L374.5,165.5 L374.5,163.5 L374.5,162.5 L374.5,160.5 L375.5,160.5 L375.5,159.5 L375.5,157.5 L375.5,156.5 L378.5,156.5 L378.5,154.5 L380.5,154.5 L381.5,154.5 L381.5,153.5 L383.5,153.5 L383.5,151.5 L383.5,150.5 L385.5,150.5 L385.5,148.5 L387.5,148.5 L387.5,147.5 L389.5,147.5 L389.5,145.5 L390.5,145.5 L391.5,145.5 L391.5,144.5 L393.5,144.5 L393.5,142.5 L396.5,142.5 L396.5,141.5 L397.5,141.5 L398.5,141.5 L399.5,141.5 L399.5,139.5 L401.5,139.5 L401.5,138.5 L402.5,138.5 L403.5,138.5 L403.5,137.5 L404.5,137.5 L404.5,135.5 L406.5,135.5 L406.5,134.5 L408.5,134.5 L408.5,133.5 L409.5,133.5 L409.5,132.5 L411.5,132.5 L411.5,131.5 L412.5,131.5 L412.5,129.5 L414.5,129.5 L414.5,128.5 L416.5,128.5 L416.5,127.5 L417.5,127.5 L417.5,126.5 L419.5,126.5 L419.5,124.5 L421.5,124.5 L421.5,123.5 L422.5,123.5 L422.5,122.5 L424.5,122.5 L424.5,121.5 L425.5,121.5 L425.5,119.5 L427.5,119.5 L428.5,119.5 L430.5,119.5 L430.5,118.5 L432.5,118.5 L432.5,117.5 L433.5,117.5 L435.5,117.5 L435.5,116.5 L436.5,116.5 L438.5,116.5 L438.5,115.5 L440.5,115.5 L440.5,114.5 L442.5,114.5 L442.5,113.5 L444.5,113.5 L446.5,113.5 L446.5,111.5 L449.5,111.5 L449.5,109.5 L451.5,109.5 L451.5,108.5 L454.5,108.5 L456.5,108.5 L456.5,106.5 L459.5,106.5 L459.5,105.5 L461.5,105.5 L461.5,104.5 L464.5,104.5 L464.5,103.5 L466.5,103.5 L468.5,103.5 L469.5,103.5 L470.5,103.5 L470.5,102.5 L472.5,102.5 L474.5,102.5 L474.5,101.5 L476.5,101.5 L476.5,99.5 L478.5,99.5 L480.5,99.5 L480.5,98.5 L481.5,98.5 L481.5,97.5 L483.5,97.5 L485.5,97.5 L485.5,96.5 L486.5,96.5 L488.5,96.5 L488.5,95.5 L490.5,95.5 L492.5,95.5 L492.5,94.5 L494.5,94.5 L496.5,94.5 L497.5,94.5 L498.5,94.5 L498.5,93.5 L499.5,93.5 L500.5,93.5 L500.5,92.5 L502.5,92.5 L504.5,92.5 L504.5,91.5 L506.5,91.5 L506.5,90.5 L508.5,90.5 L510.5,90.5 L510.5,88.5 L512.5,88.5 L513.5,88.5 L513.5,86.5 L515.5,86.5 L517.5,86.5 L519.5,86.5 L521.5,86.5 L524.5,86.5 L526.5,86.5 L528.5,86.5 L528.5,85.5 L530.5,85.5 L532.5,85.5 L534.5,85.5 L535.5,85.5 L537.5,85.5 L539.5,85.5 L541.5,85.5 L543.5,85.5 L545.5,85.5 L545.5,84.5 L547.5,84.5 L550.5,84.5 L551.5,84.5 L551.5,83.5 L554.5,83.5 L556.5,83.5 L556.5,81.5 L558.5,81.5 L559.5,81.5 L559.5,80.5 L561.5,80.5 L562.5,80.5 L564.5,80.5 L565.5,80.5 L567.5,80.5 L568.5,80.5 L569.5,80.5 L571.5,80.5 L571.5,79.5 L574.5,79.5 L576.5,79.5 L577.5,79.5 L578.5,79.5 L580.5,79.5 L581.5,79.5 L584.5,79.5 L585.5,79.5 L586.5,79.5 L589.5,79.5 L591.5,79.5 L591.5,78.5 L593.5,78.5 L596.5,78.5 L598.5,78.5 L599.5,78.5" fill="none" stroke="#9030d8" stroke-width="3" stroke-dasharray="24 8.7 19.6 8.9 4.2 8.5 4.2 8.5"/>
<path d="M301.5,375.5 L301.5,374.5 L301.5,372.5 L301.5,371.5 L301.5,370.5 L301.5,368.5 L301.5,366.5 L301.5,365.5 L301.5,364.5 L301.5,363.5 L301.5,361.5 L301.5,359.5 L301.5,358.5 L301.5,356.5 L301.5,355.5 L301.5,353.5 L301.5,352.5 L302.5,352.5 L302.5,351.5 L302.5,349.5 L302.5,347.5 L302.5,346.5 L302.5,344.5 L302.5,342.5 L302.5,341.5 L302.5,340.5 L302.5,338.5 L302.5,337.5 L303.5,337.5 L303.5,336.5 L303.5,334.5 L303.5,333.5 L303.5,331.5 L303.5,330.5 L303.5,328.5 L304.5,328.5 L304.5,326.5 L304.5,325.5 L304.5,324.5 L304.5,323.5 L304.5,322.5 L304.5,320.5 L305.5,320.5 L305.5,318.5 L305.5,317.5 L305.5,315.5 L306.5,315.5 L306.5,313.5 L306.5,311.5 L306.5,310.5 L306.5,308.5 L307.5,308.5 L307.5,307.5 L307.5,305.5 L307.5,303.5 L307.5,302.5 L307.5,300.5 L308.5,300.5 L308.5,298.5 L308.5,297.5 L308.5,296.5 L308.5,295.5 L308.5,294.5 L310.5,294.5 L310.5,292.5 L310.5,291.5 L310.5,290.5 L311.5,290.5 L311.5,288.5 L311.5,287.5 L311.5,286.5 L311.5,284.5 L312.5,284.5 L312.5,283.5 L314.5,283.5 L314.5,281.5 L314.5,280.5 L314.5,278.5 L315.5,278.5 L315.5,276.5 L315.5,275.5 L315.5,274.5 L317.5,274.5 L317.5,272.5 L317.5,271.5 L317.5,270.5 L317.5,268.5 L317.5,267.5 L317.5,265.5 L317.5,264.5 L317.5,262.5 L318.5,262.5 L318.5,261.5 L318.5,260.5 L319.5,260.5 L319.5,258.5 L319.5,257.5 L320.5,257.5 L320.5,256.5 L320.5,254.5 L320.5,253.5 L322.5,253.5 L322.5,251.5 L323.5,251.5 L323.5,249.5 L323.5,248.5 L325.5,248.5 L325.5,247.5 L326.5,247.5 L326.5,245.5 L326.5,244.5 L327.5,244.5 L327.5,243.5 L329.5,243.5 L329.5,241.5 L329.5,240.5 L332.5,240.5 L332.5,238.5 L332.5,236.5 L332.5,235.5 L333.5,235.5 L333.5,233.5 L333.5,231.5 L333.5,229.5 L334.5,229.5 L334.5,228.5 L334.5,227.5 L334.5,226.5 L336.5,226.5 L336.5,225.5 L336.5,223.5 L336.5,221.5 L338.5,221.5 L338.5,220.5 L338.5,218.5 L338.5,217.5 L340.5,217.5 L340.5,215.5 L341.5,215.5 L341.5,213.5 L341.5,212.5 L342.5,212.5 L342.5,210.5 L342.5,209.5 L344.5,209.5 L344.5,207.5 L344.5,206.5 L346.5,206.5 L346.5,205.5 L346.5,203.5 L349.5,203.5 L350.5,203.5 L350.5,202.5 L351.5,202.5 L351.5,200.5 L352.5,200.5 L352.5,199.5 L352.5,198.5 L354.5,198.5 L354.5,196.5 L354.5,195.5 L355.5,195.5 L355.5,193.5 L355.5,191.5 L357.5,191.5 L357.5,190.5 L357.5,189.5 L358.5,189.5 L358.5,187.5 L360.5,187.5 L360.5,186.5 L361.5,186.5 L361.5,184.5 L363.5,184.5 L363.5,183.5 L365.5,183.5 L365.5,182.5 L367.5,182.5 L367.5,180.5 L368.5,180.5 L368.5,179.5 L369.5,179.5 L369.5,177.5 L369.5,176.5 L369.5,174.5 L370.5,174.5 L370.5,173.5 L370.5,171.5 L371.5,171.5 L371.5,170.5 L373.5,170.5 L373.5,168.5 L374.5,168.5 L374.5,167.5 L374.5,165.5 L376.5,165.5 L376.5,164.5 L376.5,162.5 L378.5,162.5 L378.5,161.5 L379.5,161.5 L379.5,159.5 L379.5,158.5 L379.5,157.5 L381.5,157.5 L381.5,155.5 L381.5,154.5 L381.5,152.5 L384.5,152.5 L384.5,151.5 L386.5,151.5 L387.5,151.5 L387.5,149.5 L387.5,148.5 L389.5,148.5 L389.5,147.5 L390.5,147.5 L391.5,147.5 L391.5,145.5 L393.5,145.5 L393.5,144.5 L394.5,144.5 L395.5,144.5 L397.5,144.5 L397.5,143.5 L398.5,143.5 L399.5,143.5 L401.5,143.5 L401.5,142.5 L402.5,142.5 L403.5,142.5 L404.5,142.5 L404.5,140.5 L405.5,140.5 L405.5,138.5 L405.5,136.5 L407.5,136.5 L407.5,135.5 L407.5,133.5 L409.5,133.5 L409.5,132.5 L411.5,132.5 L412.5,132.5 L413.5,132.5 L413.5,131.5 L416.5,131.5 L418.5,131.5 L421.5,131.5 L422.5,131.5 L422.5,129.5 L424.5,129.5 L424.5,128.5 L426.5,128.5 L426.5,127.5 L426.5,125.5 L428.5,125.5 L428.5,124.5 L428.5,123.5 L429.5,123.5 L429.5,122.5 L431.5,122.5 L431.5,121.5 L433.5,121.5 L435.5,121.5 L435.5,119.5 L436.5,119.5 L438.5,119.5 L438.5,117.5 L439.5,117.5 L439.5,116.5 L439.5,115.5 L441.5,115.5 L441.5,114.5 L443.5,114.5 L443.5,113.5 L445.5,113.5 L445.5,111.5 L446.5,111.5 L448.5,111.5 L449.5,111.5 L451.5,111.5 L453.5,111.5 L453.5,110.5 L454.5,110.5 L454.5,109.5 L455.5,109.5 L457.5,109.5 L457.5,108.5 L457.5,106.5 L459.5,106.5 L459.5,105.5 L461.5,105.5 L463.5,105.5 L463.5,104.5 L464.5,104.5 L465.5,104.5 L465.5,103.5 L468.5,103.5 L468.5,101.5 L470.5,101.5 L470.5,100.5 L471.5,100.5 L472.5,100.5 L472.5,99.5 L474.5,99.5 L475.5,99.5 L475.5,97.5 L477.5,97.5 L477.5,95.5 L479.5,95.5 L479.5,94.5 L481.5,94.5 L482.5,94.5 L484.5,94.5 L484.5,93.5 L487.5,93.5 L490.5,93.5 L491.5,93.5 L493.5,93.5 L495.5,93.5 L496.5,93.5 L496.5,91.5 L498.5,91.5 L498.5,90.5 L500.5,90.5 L501.5,90.5 L501.5,89.5 L503.5,89.5 L503.5,88.5 L506.5,88.5 L506.5,87.5 L508.5,87.5 L510.5,87.5 L511.5,87.5 L512.5,87.5 L512.5,86.5 L515.5,86.5 L517.5,86.5 L519.5,86.5 L519.5,84.5 L521.5,84.5 L523.5,84.5 L526.5,84.5 L528.5,84.5 L530.5,84.5 L531.5,84.5 L534.5,84.5 L535.5,84.5 L535.5,83.5 L537.5,83.5 L539.5,83.5 L539.5,82.5 L541.5,82.5 L541.5,81.5 L543.5,81.5 L544.5,81.5 L546.5,81.5 L546.5,80.5 L548.5,80.5 L549.5,80.5 L551.5,80.5 L552.5,80.5 L553.5,80.5 L553.5,79.5 L556.5,79.5 L557.5,79.5 L559.5,79.5 L562.5,79.5 L564.5,79.5 L565.5,79.5 L565.5,78.5 L567.5,78.5 L569.5,78.5 L570.5,78.5 L572.5,78.5 L574.5,78.5 L575.5,78.5 L577.5,78.5 L578.5,78.5 L580.5,78.5 L583.5,78.5 L585.5,78.5 L587.5,78.5 L589.5,78.5 L591.5,78.5 L592.5,78.5 L595.5,78.5 L597.5,78.5 L599.5,78.5" fill="none" stroke="#738518" stroke-width="3" stroke-dasharray="65.5 13"/>
<path d="M301.5,375.5 L301.5,374.5 L301.5,372.5 L301.5,371.5 L301.5,370.5 L301.5,368.5 L301.5,367.5 L301.5,366.5 L301.5,364.5 L301.5,363.5 L301.5,362.5 L301.5,361.5 L301.5,359.5 L301.5,358.5 L301.5,356.5 L301.5,355.5 L301.5,353.5 L301.5,352.5 L301.5,351.5 L301.5,349.5 L301.5,347.5 L302.5,347.5 L302.5,346.5 L302.5,345.5 L302.5,343.5 L302.5,342.5 L302.5,341.5 L302.5,339.5 L303.5,339.5 L303.5,338.5 L303.5,337.5 L303.5,335.5 L303.5,333.5 L303.5,332.5 L303.5,331.5 L303.5,329.5 L304.5,329.5 L304.5,328.5 L304.5,327.5 L304.5,325.5 L304.5,323.5 L305.5,323.5 L305.5,322.5 L305.5,321.5 L305.5,320.5 L306.5,320.5 L306.5,319.5 L306.5,317.5 L306.5,316.5 L306.5,314.5 L307.5,314.5 L307.5,313.5 L307.5,311.5 L307.5,310.5 L309.5,310.5 L309.5,309.5 L309.5,307.5 L309.5,305.5 L310.5,305.5 L310.5,304.5 L310.5,303.5 L310.5,301.5 L311.5,301.5 L311.5,299.5 L311.5,297.5 L311.5,296.5 L311.5,294.5 L311.5,293.5 L311.5,291.5 L311.5,289.5 L311.5,287.5 L311.5,286.5 L311.5,284.5 L311.5,283.5 L311.5,281.5 L312.5,281.5 L312.5,279.5 L312.5,278.5 L314.5,278.5 L314.5,277.5 L314.5,276.5 L314.5,275.5 L315.5,275.5 L315.5,273.5 L317.5,273.5 L317.5,271.5 L317.5,270.5 L318.5,270.5 L318.5,268.5 L318.5,266.5 L320.5,266.5 L320.5,265.5 L320.5,264.5 L322.5,264.5 L322.5,262.5 L323.5,262.5 L323.5,260.5 L323.5,259.5 L323.5,258.5 L323.5,256.5 L325.5,256.5 L325.5,255.5 L326.5,255.5 L326.5,253.5 L326.5,252.5 L327.5,252.5 L327.5,250.5 L327.5,249.5 L329.5,249.5 L329.5,248.5 L329.5,246.5 L329.5,244.5 L330.5,244.5 L330.5,243.5 L330.5,241.5 L330.5,240.5 L330.5,238.5 L330.5,237.5 L331.5,237.5 L331.5,236.5 L331.5,235.5 L331.5,233.5 L332.5,233.5 L332.5,232.5 L332.5,230.5 L332.5,229.5 L333.5,229.5 L333.5,227.5 L333.5,226.5 L335.5,226.5 L335.5,224.5 L336.5,224.5 L336.5,222.5 L337.5,222.5 L337.5,220.5 L339.5,220.5 L339.5,219.5 L339.5,218.5 L339.5,217.5 L339.5,215.5 L340.5,215.5 L340.5,214.5 L340.5,212.5 L340.5,211.5 L342.5,211.5 L342.5,210.5 L342.5,208.5 L343.5,208.5 L343.5,206.5 L343.5,205.5 L344.5,205.5 L344.5,203.5 L344.5,202.5 L346.5,202.5 L347.5,202.5 L347.5,200.5 L348.5,200.5 L350.5,200.5 L350.5,199.5 L352.5,199.5 L352.5,197.5 L354.5,197.5 L354.5,196.5 L354.5,194.5 L356.5,194.5 L356.5,192.5 L356.5,191.5 L357.5,191.5 L357.5,190.5 L357.5,188.5 L358.5,188.5 L358.5,187.5 L358.5,185.5 L360.5,185.5 L360.5,183.5 L360.5,181.5 L361.5,181.5 L361.5,180.5 L361.5,179.5 L361.5,178.5 L363.5,178.5 L364.5,178.5 L364.5,176.5 L364.5,175.5 L366.5,175.5 L366.5,174.5 L367.5,174.5 L367.5,172.5 L369.5,172.5 L369.5,171.5 L369.5,169.5 L370.5,169.5 L370.5,168.5 L371.5,168.5 L371.5,166.5 L371.5,165.5 L373.5,165.5 L373.5,163.5 L373.5,162.5 L375.5,162.5 L376.5,162.5 L376.5,161.5 L378.5,161.5 L379.5,161.5 L379.5,159.5 L381.5,159.5 L381.5,158.5 L381.5,157.5 L383.5,157.5 L383.5,155.5 L384.5,155.5 L384.5,153.5 L385.5,153.5 L385.5,152.5 L385.5,151.5 L387.5,151.5 L387.5,150.5 L387.5,148.5 L389.5,148.5 L389.5,147.5 L391.5,147.5 L391.5,146.5 L392.5,146.5 L392.5,145.5 L394.5,145.5 L395.5,145.5 L395.5,144.5 L397.5,144.5 L399.5,144.5 L399.5,143.5 L400.5,143.5 L400.5,142.5 L400.5,141.5 L401.5,141.5 L401.5,140.5 L401.5,138.5 L401.5,137.5 L402.5,137.5 L402.5,136.5 L404.5,136.5 L404.5,134.5 L404.5,133.5 L405.5,133.5 L405.5,132.5 L407.5,132.5 L408.5,132.5 L408.5,130.5 L408.5,129.5 L410.5,129.5 L410.5,128.5 L413.5,128.5 L414.5,128.5 L416.5,128.5 L417.5,128.5 L417.5,127.5 L419.5,127.5 L421.5,127.5 L423.5,127.5 L423.5,126.5 L425.5,126.5 L426.5,126.5 L426.5,124.5 L427.5,124.5 L427.5,123.5 L429.5,123.5 L430.5,123.5 L430.5,121.5 L432.5,121.5 L434.5,121.5 L435.5,121.5 L435.5,120.5 L437.5,120.5 L439.5,120.5 L439.5,119.5 L442.5,119.5 L442.5,118.5 L444.5,118.5 L446.5,118.5 L446.5,117.5 L448.5,117.5 L448.5,116.5 L450.5,116.5 L450.5,115.5 L451.5,115.5 L452.5,115.5 L453.5,115.5 L453.5,114.5 L455.5,114.5 L455.5,113.5 L456.5,113.5 L456.5,112.5 L457.5,112.5 L457.5,111.5 L459.5,111.5 L459.5,109.5 L460.5,109.5 L462.5,109.5 L462.5,108.5 L464.5,108.5 L465.5,108.5 L467.5,108.5 L467.5,107.5 L469.5,107.5 L471.5,107.5 L471.5,105.5 L473.5,105.5 L475.5,105.5 L475.5,104.5 L476.5,104.5 L478.5,104.5 L478.5,102.5 L479.5,102.5 L480.5,102.5 L480.5,101.5 L481.5,101.5 L483.5,101.5 L486.5,101.5 L488.5,101.5 L490.5,101.5 L490.5,100.5 L491.5,100.5 L492.5,100.5 L492.5,99.5 L494.5,99.5 L495.5,99.5 L495.5,98.5 L497.5,98.5 L498.5,98.5 L498.5,97.5 L501.5,97.5 L502.5,97.5 L502.5,95.5 L504.5,95.5 L504.5,94.5 L507.5,94.5 L510.5,94.5 L510.5,93.5 L511.5,93.5 L512.5,93.5 L513.5,93.5 L515.5,93.5 L515.5,92.5 L518.5,92.5 L520.5,92.5 L520.5,90.5 L522.5,90.5 L525.5,90.5 L525.5,89.5 L527.5,89.5 L530.5,89.5 L531.5,89.5 L533.5,89.5 L535.5,89.5 L536.5,89.5 L538.5,89.5 L538.5,88.5 L540.5,88.5 L540.5,87.5 L543.5,87.5 L545.5,87.5 L545.5,86.5 L547.5,86.5 L548.5,86.5 L550.5,86.5 L550.5,85.5 L553.5,85.5 L553.5,84.5 L556.5,84.5 L558.5,84.5 L558.5,83.5 L559.5,83.5 L560.5,83.5 L562.5,83.5 L562.5,82.5 L563.5,82.5 L564.5,82.5 L564.5,81.5 L566.5,81.5 L569.5,81.5 L571.5,81.5 L572.5,81.5 L572.5,80.5 L573.5,80.5 L575.5,80.5 L576.5,80.5 L579.5,80.5 L581.5,80.5 L583.5,80.5 L583.5,79.5 L584.5,79.5 L586.5,79.5 L588.5,79.5 L591.5,79.5 L592.5,79.5 L594.5,79.5 L595.5,79.5 L597.5,79.5 L599.5,79.5 L599.5,78.5" fill="none" stroke="#2090f0" stroke-width="3" stroke-dasharray="24.2 13 4.5 12.6 4.6 12.7 4.6 12.7"/>
<path d="M301.5,375.5 L301.5,374.5 L301.5,373.5 L301.5,371.5 L301.5,370.5 L301.5,369.5 L301.5,368.5 L301.5,366.5 L301.5,365.5 L301.5,363.5 L301.5,362.5 L301.5,361.5 L301.5,359.5 L301.5,358.5 L301.5,357.5 L301.5,356.5 L301.5,355.5 L301.5,353.5 L301.5,352.5 L301.5,351.5 L301.5,349.5 L301.5,348.5 L301.5,347.5 L301.5,345.5 L301.5,344.5 L301.5,342.5 L301.5,341.5 L301.5,339.5 L301.5,338.5 L301.5,336.5 L301.5,334.5 L301.5,333.5 L301.5,332.5 L302.5,332.5 L302.5,330.5 L302.5,329.5 L302.5,327.5 L302.5,326.5 L302.5,324.5 L302.5,322.5 L304.5,322.5 L304.5,320.5 L304.5,319.5 L304.5,318.5 L304.5,317.5 L304.5,315.5 L304.5,314.5 L304.5,313.5 L304.5,311.5 L304.5,310.5 L304.5,309.5 L304.5,307.5 L304.5,305.5 L304.5,304.5 L304.5,303.5 L304.5,302.5 L304.5,300.5 L304.5,299.5 L304.5,297.5 L304.5,295.5 L304.5,294.5 L306.5,294.5 L306.5,292.5 L306.5,290.5 L307.5,290.5 L307.5,288.5 L307.5,287.5 L307.5,286.5 L307.5,284.5 L307.5,283.5 L307.5,281.5 L307.5,280.5 L307.5,278.5 L307.5,277.5 L307.5,276.5 L307.5,275.5 L307.5,273.5 L307.5,272.5 L307.5,271.5 L307.5,269.5 L307.5,268.5 L307.5,267.5 L307.5,265.5 L309.5,265.5 L309.5,264.5 L309.5,262.5 L310.5,262.5 L310.5,260.5 L310.5,259.5 L312.5,259.5 L312.5,258.5 L313.5,258.5 L313.5,257.5 L314.5,257.5 L314.5,256.5 L314.5,254.5 L317.5,254.5 L317.5,252.5 L317.5,251.5 L320.5,251.5 L320.5,249.5 L321.5,249.5 L321.5,248.5 L321.5,246.5 L321.5,245.5 L321.5,242.5 L321.5,241.5 L321.5,240.5 L322.5,240.5 L322.5,238.5 L322.5,237.5 L323.5,237.5 L323.5,236.5 L324.5,236.5 L324.5,234.5 L324.5,233.5 L325.5,233.5 L325.5,232.5 L326.5,232.5 L326.5,231.5 L328.5,231.5 L328.5,228.5 L328.5,227.5 L329.5,227.5 L329.5,226.5 L329.5,224.5 L329.5,222.5 L331.5,222.5 L331.5,221.5 L331.5,219.5 L331.5,217.5 L333.5,217.5 L334.5,217.5 L334.5,215.5 L336.5,215.5 L338.5,215.5 L339.5,215.5 L339.5,214.5 L340.5,214.5 L340.5,213.5 L342.5,213.5 L342.5,212.5 L342.5,211.5 L344.5,211.5 L344.5,209.5 L344.5,208.5 L345.5,208.5 L345.5,207.5 L345.5,206.5 L346.5,206.5 L346.5,204.5 L346.5,202.5 L347.5,202.5 L347.5,201.5 L348.5,201.5 L348.5,200.5 L349.5,200.5 L349.5,199.5 L349.5,197.5 L350.5,197.5 L350.5,196.5 L352.5,196.5 L352.5,195.5 L353.5,195.5 L353.5,193.5 L354.5,193.5 L354.5,192.5 L355.5,192.5 L355.5,190.5 L357.5,190.5 L357.5,189.5 L358.5,189.5 L358.5,187.5 L358.5,186.5 L360.5,186.5 L360.5,185.5 L360.5,183.5 L360.5,182.5 L361.5,182.5 L361.5,180.5 L361.5,178.5 L363.5,178.5 L363.5,177.5 L363.5,175.5 L364.5,175.5 L364.5,173.5 L364.5,171.5 L364.5,170.5 L367.5,170.5 L367.5,169.5 L368.5,169.5 L368.5,166.5 L369.5,166.5 L369.5,165.5 L369.5,163.5 L371.5,163.5 L371.5,162.5 L372.5,162.5 L372.5,160.5 L372.5,159.5 L375.5,159.5 L376.5,159.5 L376.5,156.5 L378.5,156.5 L378.5,155.5 L379.5,155.5 L379.5,154.5 L381.5,154.5 L381.5,153.5 L383.5,153.5 L384.5,153.5 L384.5,152.5 L387.5,152.5 L388.5,152.5 L388.5,151.5 L390.5,151.5 L390.5,149.5 L392.5,149.5 L392.5,148.5 L394.5,148.5 L394.5,147.5 L396.5,147.5 L396.5,145.5 L398.5,145.5 L398.5,144.5 L399.5,144.5 L399.5,142.5 L399.5,141.5 L401.5,141.5 L401.5,140.5 L402.5,140.5 L402.5,139.5 L403.5,139.5 L403.5,138.5 L405.5,138.5 L405.5,136.5 L407.5,136.5 L407.5,135.5 L409.5,135.5 L409.5,133.5 L410.5,133.5 L410.5,132.5 L411.5,132.5 L411.5,131.5 L411.5,130.5 L414.5,130.5 L414.5,129.5 L416.5,129.5 L416.5,127.5 L418.5,127.5 L419.5,127.5 L419.5,126.5 L421.5,126.5 L421.5,125.5 L423.5,125.5 L423.5,123.5 L424.5,123.5 L424.5,122.5 L426.5,122.5 L428.5,122.5 L428.5,121.5 L430.5,121.5 L431.5,121.5 L433.5,121.5 L433.5,120.5 L435.5,120.5 L435.5,118.5 L436.5,118.5 L436.5,117.5 L437.5,117.5 L437.5,115.5 L439.5,115.5 L439.5,114.5 L442.5,114.5 L442.5,113.5 L445.5,113.5 L447.5,113.5 L447.5,111.5 L449.5,111.5 L449.5,110.5 L450.5,110.5 L450.5,109.5 L452.5,109.5 L452.5,108.5 L453.5,108.5 L453.5,107.5 L455.5,107.5 L455.5,106.5 L455.5,104.5 L457.5,104.5 L457.5,102.5 L459.5,102.5 L461.5,102.5 L461.5,101.5 L464.5,101.5 L465.5,101.5 L468.5,101.5 L470.5,101.5 L472.5,101.5 L472.5,100.5 L474.5,100.5 L474.5,99.5 L475.5,99.5 L477.5,99.5 L477.5,98.5 L479.5,98.5 L479.5,96.5 L481.5,96.5 L483.5,96.5 L483.5,95.5 L486.5,95.5 L488.5,95.5 L490.5,95.5 L490.5,94.5 L492.5,94.5 L493.5,94.5 L493.5,92.5 L494.5,92.5 L494.5,91.5 L496.5,91.5 L497.5,91.5 L497.5,90.5 L499.5,90.5 L501.5,90.5 L504.5,90.5 L505.5,90.5 L505.5,89.5 L507.5,89.5 L509.5,89.5 L509.5,88.5 L510.5,88.5 L510.5,87.5 L511.5,87.5 L514.5,87.5 L516.5,87.5 L517.5,87.5 L519.5,87.5 L521.5,87.5 L523.5,87.5 L524.5,87.5 L525.5,87.5 L525.5,86.5 L526.5,86.5 L528.5,86.5 L530.5,86.5 L532.5,86.5 L532.5,84.5 L534.5,84.5 L536.5,84.5 L536.5,83.5 L538.5,83.5 L539.5,83.5 L541.5,83.5 L543.5,83.5 L544.5,83.5 L544.5,82.5 L546.5,82.5 L547.5,82.5 L547.5,81.5 L549.5,81.5 L551.5,81.5 L552.5,81.5 L554.5,81.5 L556.5,81.5 L556.5,80.5 L558.5,80.5 L559.5,80.5 L560.5,80.5 L563.5,80.5 L564.5,80.5 L564.5,79.5 L566.5,79.5 L567.5,79.5 L570.5,79.5 L571.5,79.5 L573.5,79.5 L576.5,79.5 L578.5,79.5 L578.5,78.5 L580.5,78.5 L581.5,78.5 L583.5,78.5 L585.5,78.5 L587.5,78.5 L590.5,78.5 L591.5,78.5 L592.5,78.5 L593.5,78.5 L595.5,78.5 L596.5,78.5 L598.5,78.5 L599.5,78.5" fill="none" stroke="#ac5478" stroke-width="3" stroke-dasharray="28.6 21.4"/>
</g>
<rect x="285.5" y="63.0" width="331.5" height="328.8" fill="none" stroke="#000" stroke-width="2.4"/>
<line x1="272.8" y1="375.40" x2="285.5" y2="375.40" stroke="#000" stroke-width="2.2"/>
<line x1="301.60" y1="391.8" x2="301.60" y2="403.3" stroke="#000" stroke-width="2.2"/>
<line x1="272.8" y1="301.12" x2="285.5" y2="301.12" stroke="#000" stroke-width="2.2"/>
<line x1="375.95" y1="391.8" x2="375.95" y2="403.3" stroke="#000" stroke-width="2.2"/>
<line x1="272.8" y1="226.85" x2="285.5" y2="226.85" stroke="#000" stroke-width="2.2"/>
<line x1="450.30" y1="391.8" x2="450.30" y2="403.3" stroke="#000" stroke-width="2.2"/>
<line x1="272.8" y1="152.57" x2="285.5" y2="152.57" stroke="#000" stroke-width="2.2"/>
<line x1="524.65" y1="391.8" x2="524.65" y2="403.3" stroke="#000" stroke-width="2.2"/>
<line x1="272.8" y1="78.30" x2="285.5" y2="78.30" stroke="#000" stroke-width="2.2"/>
<line x1="599.00" y1="391.8" x2="599.00" y2="403.3" stroke="#000" stroke-width="2.2"/>
<text transform="translate(229.58,87.30) scale(0.8530,1)" font-size="21" fill="#000" stroke="#e0e0e0" stroke-width="0.0" >1.00</text>
<text transform="translate(229.43,161.57) scale(0.8637,1)" font-size="21" fill="#000" stroke="#e0e0e0" stroke-width="0.0" >0.75</text>
<text transform="translate(229.44,235.85) scale(0.8566,1)" font-size="21" fill="#000" stroke="#e0e0e0" stroke-width="0.0" >0.50</text>
<text transform="translate(229.43,310.12) scale(0.8637,1)" font-size="21" fill="#000" stroke="#e0e0e0" stroke-width="0.0" >0.25</text>
<text transform="translate(229.44,384.40) scale(0.8566,1)" font-size="21" fill="#000" stroke="#e0e0e0" stroke-width="0.0" >0.00</text>
<text transform="translate(580.73,433.20) scale(0.8530,1)" font-size="21" fill="#000" stroke="#e0e0e0" stroke-width="0.0" >1.00</text>
<text transform="translate(506.58,433.20) scale(0.8637,1)" font-size="21" fill="#000" stroke="#e0e0e0" stroke-width="0.0" >0.75</text>
<text transform="translate(432.24,433.20) scale(0.8566,1)" font-size="21" fill="#000" stroke="#e0e0e0" stroke-width="0.0" >0.50</text>
<text transform="translate(357.88,433.20) scale(0.8637,1)" font-size="21" fill="#000" stroke="#e0e0e0" stroke-width="0.0" >0.25</text>
<text transform="translate(283.54,433.20) scale(0.8566,1)" font-size="21" fill="#000" stroke="#e0e0e0" stroke-width="0.0" >0.00</text>
<text transform="translate(373.33,478.70) scale(0.8460,1)" font-size="24" fill="#000" stroke="#e0e0e0" stroke-width="0.0" >1</text>
<text transform="translate(393.90,478.70) scale(1.3333,1)" font-size="24" fill="#000" stroke="#e0e0e0" stroke-width="0.22" >-</text>
<text transform="translate(411.45,478.70) scale(1.0048,1)" font-size="24" fill="#000" stroke="#e0e0e0" stroke-width="0.22" >Specificity</text>
<text transform="translate(194.9,284.28) rotate(-90) scale(0.8912,1)" font-size="24.5" stroke="#e0e0e0" stroke-width="0.22">Sensitivity</text>
<rect x="241.6" y="504.2" width="417.4" height="258.8" fill="#fff" stroke="#000" stroke-width="2.2"/>
<text transform="translate(350.33,530.20) scale(0.9118,1)" font-size="23.5" fill="#000" stroke="#ffffff" stroke-width="0.2" >ROC</text>
<text transform="translate(405.63,530.20) scale(0.9698,1)" font-size="23.5" fill="#000" stroke="#ffffff" stroke-width="0.2" >Curve</text>
<text transform="translate(475.61,530.20) scale(0.9893,1)" font-size="23.5" fill="#000" stroke="#ffffff" stroke-width="0.2" >(Area)</text>
<text transform="translate(336.53,559.40) scale(0.9291,1)" font-size="20.2" fill="#000" stroke="#ffffff" stroke-width="0.15" >Baseline characteristics</text>
<text transform="translate(545.53,559.40) scale(0.9229,1)" font-size="20.2" fill="#000" stroke="#ffffff" stroke-width="0.15" >(0.7954)</text>
<g stroke="#2222dd" stroke-width="2.6" fill="none"><line x1="246.5" y1="549.20" x2="326.7" y2="549.20"/></g>
<text transform="translate(336.49,587.57) scale(0.9587,1)" font-size="20.2" fill="#000" stroke="#ffffff" stroke-width="0.15" >Height-adjusted SMI</text>
<text transform="translate(523.83,587.57) scale(0.9216,1)" font-size="20.2" fill="#000" stroke="#ffffff" stroke-width="0.15" >(0.8036)</text>
<g stroke="#b01028" stroke-width="2.6" fill="none"><line x1="247.8" y1="577.37" x2="287.0" y2="577.37"/><line x1="300.0" y1="577.37" x2="325.2" y2="577.37"/></g>
<text transform="translate(337.12,615.74) scale(0.9266,1)" font-size="20.2" fill="#000" stroke="#ffffff" stroke-width="0.15" >Gait speed</text>
<text transform="translate(439.13,615.74) scale(0.9175,1)" font-size="20.2" fill="#000" stroke="#ffffff" stroke-width="0.15" >(0.8043)</text>
<g stroke="#045c55" stroke-width="2.6" fill="none"><line x1="247.9" y1="605.54" x2="286.8" y2="605.54"/><line x1="299.8" y1="605.54" x2="309.1" y2="605.54"/><line x1="322.1" y1="605.54" x2="325.0" y2="605.54"/></g>
<text transform="translate(337.69,643.91) scale(0.9738,1)" font-size="20.2" fill="#000" stroke="#ffffff" stroke-width="0.15" >Timed up-and-go test</text>
<text transform="translate(536.83,643.91) scale(0.9202,1)" font-size="20.2" fill="#000" stroke="#ffffff" stroke-width="0.15" >(0.8064)</text>
<g stroke="#4e2400" stroke-width="2.6" fill="none"><line x1="247.9" y1="633.71" x2="311.0" y2="633.71"/><line x1="324.0" y1="633.71" x2="324.6" y2="633.71"/></g>
<text transform="translate(337.70,672.08) scale(0.9606,1)" font-size="20.2" fill="#000" stroke="#ffffff" stroke-width="0.15" >Timed chair stand</text>
<text transform="translate(503.23,672.08) scale(0.9175,1)" font-size="20.2" fill="#000" stroke="#ffffff" stroke-width="0.15" >(0.8096)</text>
<g stroke="#9030d8" stroke-width="2.6" fill="none"><line x1="247.9" y1="661.88" x2="271.8" y2="661.88"/><line x1="280.5" y1="661.88" x2="300.1" y2="661.88"/><line x1="309.0" y1="661.88" x2="313.2" y2="661.88"/><line x1="321.7" y1="661.88" x2="325.0" y2="661.88"/></g>
<text transform="translate(338.00,700.25) scale(0.9495,1)" font-size="20.2" fill="#000" stroke="#ffffff" stroke-width="0.15" >Weight-adjusted leg press</text>
<text transform="translate(571.13,700.25) scale(0.9175,1)" font-size="20.2" fill="#000" stroke="#ffffff" stroke-width="0.15" >(0.8050)</text>
<g stroke="#738518" stroke-width="2.6" fill="none"><line x1="247.8" y1="690.05" x2="313.3" y2="690.05"/></g>
<text transform="translate(336.48,728.42) scale(0.9629,1)" font-size="20.2" fill="#000" stroke="#ffffff" stroke-width="0.15" >Handgrip strength</text>
<text transform="translate(503.34,728.42) scale(0.9120,1)" font-size="20.2" fill="#000" stroke="#ffffff" stroke-width="0.15" >(0.8015)</text>
<g stroke="#2090f0" stroke-width="2.6" fill="none"><line x1="247.8" y1="718.22" x2="272.0" y2="718.22"/><line x1="285.0" y1="718.22" x2="289.5" y2="718.22"/><line x1="302.1" y1="718.22" x2="306.7" y2="718.22"/><line x1="319.4" y1="718.22" x2="325.2" y2="718.22"/></g>
<text transform="translate(337.30,756.59) scale(1.0134,1)" font-size="20.2" fill="#000" stroke="#ffffff" stroke-width="0.15" >All</text>
<text transform="translate(371.83,756.59) scale(0.9175,1)" font-size="20.2" fill="#000" stroke="#ffffff" stroke-width="0.15" >(0.8171)</text>
<g stroke="#ac5478" stroke-width="2.6" fill="none"><line x1="247.8" y1="746.39" x2="276.4" y2="746.39"/><line x1="297.8" y1="746.39" x2="325.2" y2="746.39"/></g>
</svg>
</body></html>
